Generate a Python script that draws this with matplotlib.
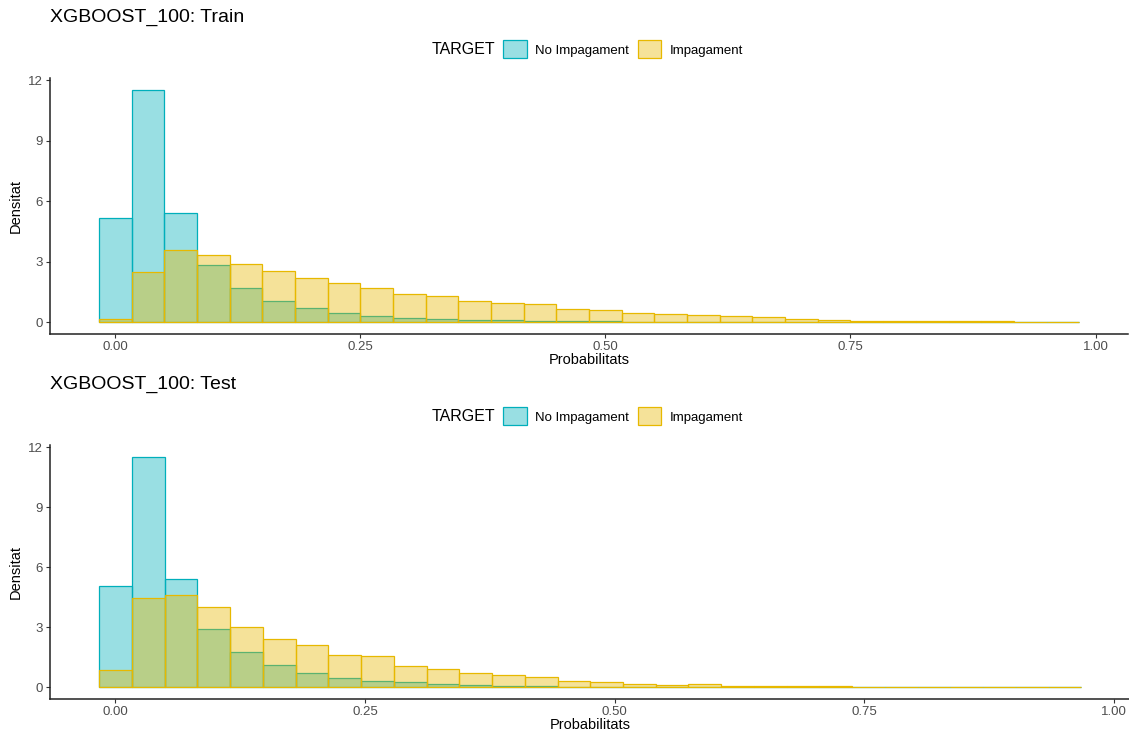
import matplotlib
matplotlib.use("Agg")
import matplotlib.pyplot as plt
import numpy as np
from matplotlib.patches import Patch

plt.rcParams['font.family'] = ['Liberation Sans', 'DejaVu Sans']

# histogram densities per bin (bins centred on k * width)
train_width = 1 / 30
train_no_imp = [5.17, 11.52, 5.44, 2.84, 1.70, 1.07, 0.71, 0.46, 0.31, 0.21,
                0.17, 0.10, 0.10, 0.05, 0.05, 0.07, 0.03, 0.02, 0.02, 0.01,
                0.01, 0.01, 0.0, 0.0, 0.0, 0.0, 0.0, 0.0, 0.0, 0.0]
train_imp = [0.17, 2.51, 3.59, 3.32, 2.89, 2.53, 2.18, 1.95, 1.70, 1.40,
             1.31, 1.06, 0.96, 0.91, 0.66, 0.61, 0.46, 0.40, 0.36, 0.31,
             0.26, 0.18, 0.12, 0.08, 0.08, 0.05, 0.05, 0.05, 0.02, 0.02]

test_width = 0.0328
test_no_imp = [5.05, 11.52, 5.43, 2.93, 1.74, 1.09, 0.70, 0.46, 0.30, 0.25,
               0.15, 0.10, 0.07, 0.07, 0.03, 0.03, 0.01, 0.01, 0.01, 0.0,
               0.0, 0.0, 0.0, 0.0, 0.0, 0.0, 0.0, 0.0, 0.0, 0.0]
test_imp = [0.84, 4.47, 4.59, 4.02, 3.03, 2.43, 2.10, 1.59, 1.56, 1.05,
            0.92, 0.70, 0.60, 0.50, 0.32, 0.25, 0.18, 0.10, 0.15, 0.08,
            0.07, 0.07, 0.05, 0.02, 0.02, 0.02, 0.02, 0.02, 0.02, 0.02]

groups = ["No Impagament", "Impagament"]
colors = ["#00AFBB", "#E7B800"]
x_ticks = [0, 0.25, 0.5, 0.75, 1.0]
x_ticklabels = ["0.00", "0.25", "0.50", "0.75", "1.00"]
y_ticks = [0, 3, 6, 9, 12]

fig = plt.figure(figsize=(11.29, 7.31), dpi=100)

panels = [
  ("XGBOOST_100: Train", train_width, train_no_imp, train_imp, [0.0443, 0.543, 0.955, 0.350]),
  ("XGBOOST_100: Test", test_width, test_no_imp, test_imp, [0.0443, 0.044, 0.957, 0.347]),
]

for title, width, no_imp, imp, rect in panels:
  ax = fig.add_axes(rect)
  centres = np.arange(len(no_imp)) * width
  for vals, col in zip([no_imp, imp], colors):
    fill = matplotlib.colors.to_rgba(col, 0.4)
    ax.bar(centres, vals, width=width, facecolor=fill, edgecolor=col, linewidth=0.9)
  ax.use_sticky_edges = False
  ax.margins(x=0.05, y=0.05)

  for side in ["top", "right"]:
    ax.spines[side].set_visible(False)
  for side in ["left", "bottom"]:
    ax.spines[side].set_color("#222222")
    ax.spines[side].set_linewidth(1.1)
  ax.set_xticks(x_ticks)
  ax.set_xticklabels(x_ticklabels)
  ax.set_yticks(y_ticks)
  ax.tick_params(colors="#333333", labelcolor="#4D4D4D", labelsize=9.5, length=3, width=0.8, pad=2)
  ax.set_xlabel("Probabilitats", fontsize=10.5, labelpad=0)
  ax.set_ylabel("Densitat", fontsize=10.5, labelpad=4)

  # title and legend sit above each panel
  top = rect[1] + rect[3]
  fig.text(0.0443, top + 0.0835, title, fontsize=14, va="center", ha="left")
  fig.text(0.4385, top + 0.0395, "TARGET", fontsize=11.5, va="center", ha="right")
  handles = [Patch(facecolor=matplotlib.colors.to_rgba(c, 0.4), edgecolor=c, linewidth=0.9) for c in colors]
  fig.legend(handles, groups, loc="center left", bbox_to_anchor=(0.4455, top + 0.0395),
             ncol=2, frameon=False, fontsize=9.5, handlelength=1.8, handleheight=1.7,
             handletextpad=0.6, columnspacing=0.7, borderaxespad=0, borderpad=0)

fig.savefig("out.png", dpi=100)
